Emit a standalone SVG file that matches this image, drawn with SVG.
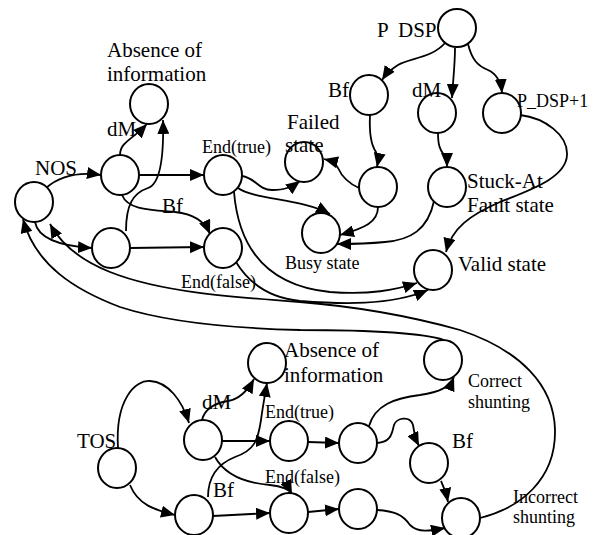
<svg xmlns="http://www.w3.org/2000/svg" width="593" height="535" viewBox="0 0 593 535">
<style>
.n{fill:#fff;stroke:#000;stroke-width:2}
.e{fill:none;stroke:#000;stroke-width:1.8;marker-end:url(#ah)}
text{font-family:"Liberation Serif","Times New Roman",serif;fill:#000}
.b{font-size:21px}
.s{font-size:18px}
</style>
<defs>
<marker id="ah" markerUnits="userSpaceOnUse" markerWidth="15" markerHeight="12" refX="14" refY="6" orient="auto" viewBox="0 0 15 12">
<path d="M0,0 L14,6 L0,12 z" fill="#000"/>
</marker>
</defs>
<rect width="593" height="535" fill="#fff"/>
<g id="connectors">
<path class="e" d="M46,188 C60,176 80,172 101,175"/>
<path class="e" d="M120,155 C120,142 132,140 147,124"/>
<path class="e" d="M126,231 C126,205 133,193 148,188 C160,184 164,160 163,120"/>
<path class="e" d="M139,175 L204,175"/>
<path class="e" d="M122,195 C128,210 150,210 175,212 C195,214 205,222 210,234"/>
<path class="e" d="M130,248 L204,247"/>
<path class="e" d="M35,222 C38,238 60,246 92,248"/>
<path class="e" d="M480,518 C520,508 556,480 555,430 C554,385 520,350 460,330 C410,316 350,306 300,302 C230,297 160,292 110,272 C85,262 62,246 50,224"/>
<path class="e" d="M444,340 C420,332 350,330 300,330 C220,328 160,320 120,307 C75,290 35,265 23,219"/>
<path class="e" d="M242,176 C256,178 258,190 272,190 C285,190 292,187 300,181"/>
<path class="e" d="M238,188 C255,200 300,198 330,214"/>
<path class="e" d="M234,192 C238,240 260,285 330,292 C370,295 395,290 417,283"/>
<path class="e" d="M236,262 C250,285 270,298 300,301 C340,304 390,306 428,290"/>
<path class="e" d="M445,43 C432,58 410,58 398,65 C390,70 386,74 382,80"/>
<path class="e" d="M455,48 C455,65 453,80 452,98"/>
<path class="e" d="M468,44 C472,60 478,66 488,70 C497,74 501,82 502,93"/>
<path class="e" d="M370,115 C369,135 371,145 376,152 C378,157 378,162 377,167"/>
<path class="e" d="M359,188 C348,183 342,177 338,168 C335,163 332,161 324,159"/>
<path class="e" d="M378,207 C378,222 365,228 340,235"/>
<path class="e" d="M438,133 C438,145 440,150 444,155 C447,159 447,163 447,167"/>
<path class="e" d="M434,201 C428,230 410,240 385,242 C365,244 350,244 337,244"/>
<path class="e" d="M520,115 C545,118 568,135 567,155 C566,178 530,190 500,202 C470,215 452,228 446,252"/>
<path class="e" d="M118,448 C115,400 135,380 150,381 C168,382 182,400 189,423"/>
<path class="e" d="M130,485 C138,505 155,510 175,515"/>
<path class="e" d="M202,420 C205,408 215,403 228,401 C240,399 248,390 254,379"/>
<path class="e" d="M208,497 C208,480 215,465 235,457 C255,450 258,440 261,420 C263,405 265,395 267,383"/>
<path class="e" d="M222,441 L270,441"/>
<path class="e" d="M215,457 C225,475 245,483 270,485 C282,486 290,490 292,494"/>
<path class="e" d="M213,516 L270,513"/>
<path class="e" d="M308,442 L339,443"/>
<path class="e" d="M308,512 L339,509"/>
<path class="e" d="M369,426 C375,405 395,398 420,395 C440,392 450,387 454,377"/>
<path class="e" d="M377,443 C392,442 392,432 394,425 C396,418 410,415 413,425 C414,432 416,440 419,446"/>
<path class="e" d="M441,481 C444,487 446,492 448,502"/>
<path class="e" d="M377,510 C395,511 403,515 410,525 C418,533 430,531 445,528"/>
</g>
<g id="abs1"><ellipse class="n" cx="149" cy="104" rx="19" ry="20"/><text class="b" x="107" y="57">Absence of</text><text class="b" x="107" y="81">information</text></g>
<g id="nos"><ellipse class="n" cx="34" cy="202" rx="19" ry="20"/><text class="b" x="35" y="175">NOS</text></g>
<g id="n1"><ellipse class="n" cx="120" cy="175" rx="19" ry="20"/></g>
<g id="n2"><ellipse class="n" cx="111" cy="248" rx="19" ry="20"/></g>
<g id="et"><ellipse class="n" cx="223" cy="175" rx="19" ry="20"/></g>
<g id="ef"><ellipse class="n" cx="223" cy="248" rx="19" ry="20"/></g>
<g id="failed"><ellipse class="n" cx="304" cy="162" rx="19" ry="20"/><text class="b" x="287" y="129">Failed</text><text class="b" x="285" y="152">state</text></g>
<g id="busy"><ellipse class="n" cx="321" cy="233" rx="19" ry="20"/><text class="s" x="285" y="269">Busy state</text></g>
<g id="pdsp"><ellipse class="n" cx="457" cy="28" rx="19" ry="19"/><text class="b" x="377" y="37">P</text><text class="b" x="398" y="37">DSP</text></g>
<g id="bf"><ellipse class="n" cx="369" cy="95" rx="19" ry="20"/></g>
<g id="dm"><ellipse class="n" cx="437" cy="113" rx="19" ry="20"/></g>
<g id="pdsp1"><ellipse class="n" cx="502" cy="113" rx="19" ry="20"/><text class="s" x="517" y="107">P_DSP+1</text></g>
<g id="bfc"><ellipse class="n" cx="378" cy="187" rx="19" ry="20"/></g>
<g id="stuck"><ellipse class="n" cx="447" cy="187" rx="19" ry="20"/><text class="b" x="467" y="188">Stuck-At</text><text class="b" x="467" y="212">Fault state</text></g>
<g id="valid"><ellipse class="n" cx="433" cy="270" rx="19" ry="20"/><text class="b" x="458" y="271">Valid state</text></g>
<g id="abs2"><ellipse class="n" cx="267" cy="363" rx="19" ry="20"/><text class="b" x="284" y="357">Absence of</text><text class="b" x="284" y="382">information</text></g>
<g id="correct"><ellipse class="n" cx="443" cy="360" rx="19" ry="20"/><text class="s" x="468" y="387">Correct</text><text class="s" x="468" y="408">shunting</text></g>
<g id="tos"><ellipse class="n" cx="117" cy="468" rx="19" ry="20"/><text class="b" x="77" y="448">TOS</text></g>
<g id="t1"><ellipse class="n" cx="203" cy="440" rx="19" ry="20"/></g>
<g id="t2"><ellipse class="n" cx="194" cy="515" rx="19" ry="20"/></g>
<g id="etb"><ellipse class="n" cx="289" cy="441" rx="19" ry="20"/></g>
<g id="etb2"><ellipse class="n" cx="358" cy="443" rx="19" ry="20"/></g>
<g id="bfb"><ellipse class="n" cx="429" cy="463" rx="19" ry="20"/><text class="b" x="452" y="448">Bf</text></g>
<g id="efb"><ellipse class="n" cx="289" cy="513" rx="19" ry="20"/></g>
<g id="efb2"><ellipse class="n" cx="358" cy="509" rx="19" ry="20"/></g>
<g id="inc"><ellipse class="n" cx="461" cy="518" rx="19" ry="20"/><text class="s" x="513" y="503">Incorrect</text><text class="s" x="513" y="523">shunting</text></g>
<g id="edge-labels">
<text class="b" x="107" y="136">dM</text>
<text class="s" x="202" y="153">End(true)</text>
<text class="b" x="162" y="213">Bf</text>
<text class="s" x="181" y="288">End(false)</text>
<text class="b" x="328" y="97">Bf</text>
<text class="b" x="412" y="97">dM</text>
<text class="b" x="202" y="409">dM</text>
<text class="s" x="265" y="418">End(true)</text>
<text class="s" x="265" y="483">End(false)</text>
<text class="b" x="213" y="497">Bf</text>
</g>
</svg>
